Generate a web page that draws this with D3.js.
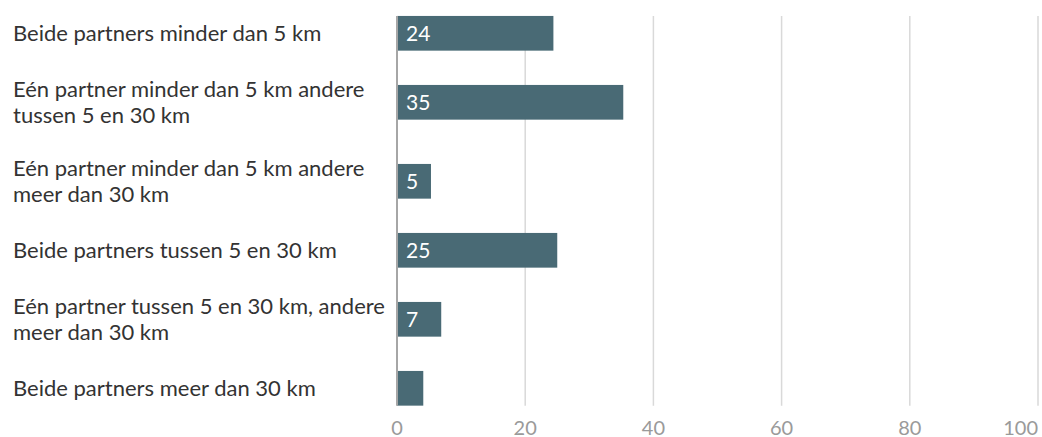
<!DOCTYPE html>
<html><head><meta charset="utf-8">
<script src="https://cdn.jsdelivr.net/npm/d3@7"></script>
<style>
html,body{margin:0;padding:0;background:#fff;}
svg{display:block;font-family:Lato,"Open Sans",sans-serif;}
</style></head>
<body><svg id="chart" width="1042" height="437"></svg>
<script>
const categories = [
  "Beide partners minder dan 5 km",
  "Eén partner minder dan 5 km andere tussen 5 en 30 km",
  "Eén partner minder dan 5 km andere meer dan 30 km",
  "Beide partners tussen 5 en 30 km",
  "Eén partner tussen 5 en 30 km, andere meer dan 30 km",
  "Beide partners meer dan 30 km"
];
const values = [24.4, 35.3, 5.3, 25.0, 6.9, 4.1];
const valueLabels = ["24", "35", "5", "25", "7", ""];
const xTicks = [0, 20, 40, 60, 80, 100];

const svg = d3.select("#chart");
const labelX = 13, labelMax = 380;
const x = d3.scaleLinear().domain([0, 100]).range([397, 1038]);

// wrap labels
const lbl = svg.append("g").attr("fill", "#333").attr("font-size", 22);
const lines = categories.map(c => {
  const words = c.split(" ");
  const out = []; let cur = "";
  const t = lbl.append("text");
  words.forEach(w => {
    const test = cur ? cur + " " + w : w;
    t.text(test);
    if (t.node().getComputedTextLength() > labelMax && cur) { out.push(cur); cur = w; }
    else cur = test;
  });
  out.push(cur);
  t.remove();
  return out;
});

const rowH = lines.map(l => l.length > 1 ? 79 : 59);
const offs = []; let acc = 0;
rowH.forEach(h => { offs.push(acc); acc += h; });
const y = d3.scaleLinear().domain([0, acc]).range([3.8, 3.8 + acc]);
const barH = 34.7;
const centers = offs.map((o, i) => y(o + rowH[i] / 2));
const gridTop = centers[0] - barH / 2, gridBot = centers[centers.length - 1] + barH / 2;

// grid
svg.append("g").selectAll("line").data(xTicks.filter(d => d > 0)).join("line")
  .attr("x1", d => x(d)).attr("x2", d => x(d))
  .attr("y1", gridTop).attr("y2", gridBot)
  .attr("stroke", "#d9d9d9").attr("stroke-width", 1.5);

// bars
svg.append("g").selectAll("rect").data(values).join("rect")
  .attr("x", x(0)).attr("y", (d, i) => centers[i] - barH / 2)
  .attr("width", d => x(d) - x(0)).attr("height", barH)
  .attr("fill", "#496a75");

// baseline
svg.append("line").attr("x1", x(0)).attr("x2", x(0)).attr("y1", gridTop).attr("y2", gridBot)
  .attr("stroke", "#a6a6a6").attr("stroke-width", 2);

// value labels
svg.append("g").selectAll("text").data(valueLabels).join("text")
  .attr("x", x(0) + 9).attr("y", (d, i) => centers[i]).attr("dy", "0.36em")
  .attr("fill", "#fff").attr("font-size", 21).text(d => d);

// category labels
lines.forEach((ls, i) => {
  const lh = 26;
  const t = lbl.append("text").attr("x", labelX);
  ls.forEach((l, j) => {
    t.append("tspan").attr("x", labelX)
      .attr("y", centers[i] + (j - (ls.length - 1) / 2) * lh)
      .attr("dy", "0.35em").text(l);
  });
});

// x tick labels
svg.append("g").selectAll("text").data(xTicks).join("text")
  .attr("x", d => x(d)).attr("y", 434.5)
  .attr("text-anchor", (d, i) => i === xTicks.length - 1 ? "end" : "middle")
  .attr("fill", "#9a9a9a").attr("font-size", 20).text(d => d);
</script></body></html>
